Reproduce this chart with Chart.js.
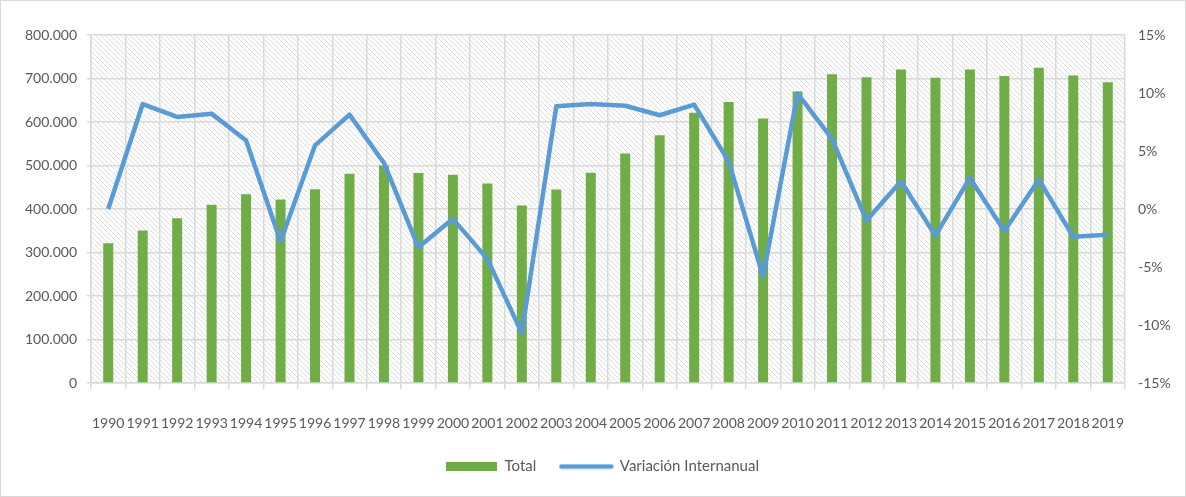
<!DOCTYPE html>
<html lang="es">
<head>
<meta charset="utf-8">
<title>Total y Variación Internanual</title>
<script src="https://cdn.jsdelivr.net/npm/chart.js@4.4.1/dist/chart.umd.min.js"></script>
<style>
    html, body { margin: 0; padding: 0; background: #fff; }
    canvas { display: block; }
</style>
</head>
<body>
<canvas id="grafico" width="1186" height="497"></canvas>
<script>
"use strict";

// Datos del gráfico
var anios = ['1990', '1991', '1992', '1993', '1994', '1995', '1996', '1997', '1998', '1999',
             '2000', '2001', '2002', '2003', '2004', '2005', '2006', '2007', '2008', '2009',
             '2010', '2011', '2012', '2013', '2014', '2015', '2016', '2017', '2018', '2019'];
var total = [321000, 350500, 379000, 410000, 434000, 422000, 445500, 481000, 500000, 483000,
             479000, 458500, 408000, 445000, 483500, 527500, 569500, 621000, 646000, 608000,
             670000, 710000, 703000, 720500, 701500, 720500, 706000, 725000, 707000, 691500];
// Variación internanual en %
var variacion = [0, 9.05, 7.94, 8.22, 5.9, -2.8, 5.49, 8.14, 3.97, -3.3,
                 -0.85, -4.3, -10.7, 8.85, 9.05, 8.9, 8.08, 9.0, 4.11, -5.8,
                 9.95, 6.04, -1.0, 2.39, -2.3, 2.68, -1.9, 2.53, -2.4, -2.21];

// Etiquetas de los ejes
var ticksTotal = [0, 100000, 200000, 300000, 400000, 500000, 600000, 700000, 800000];
var ticksVariacion = [-15, -10, -5, 0, 5, 10, 15];

var VERDE = '#70ad47';
var AZUL = '#5b9bd5';
var GRIS_TEXTO = '#595959';
var GRIS_REJILLA = '#d9d9d9';
var fuente = { family: 'Lato, "Open Sans", sans-serif', size: 14 };
var fuenteLeyenda = { family: 'Lato, "Open Sans", sans-serif', size: 15 };

// Separador de miles con punto
function miles(v) {
    return String(v).replace(/\B(?=(\d{3})+(?!\d))/g, '.');
}

// Trama rayada del área del gráfico
var trama = document.createElement('canvas');
trama.width = 5;
trama.height = 5;
(function () {
    var g = trama.getContext('2d');
    g.strokeStyle = '#dedede';
    g.lineWidth = 1;
    [-5, 0, 5].forEach(function (k) {
        g.beginPath();
        g.moveTo(k, 0);
        g.lineTo(k + 5, 5);
        g.stroke();
    });
})();

// Muestras de la leyenda
function muestraBarra() {
    var c = document.createElement('canvas');
    c.width = 51; c.height = 9;
    var g = c.getContext('2d');
    g.fillStyle = VERDE;
    g.fillRect(0, 0, 51, 9);
    return c;
}
function muestraLinea() {
    var c = document.createElement('canvas');
    c.width = 56; c.height = 6;
    var g = c.getContext('2d');
    g.strokeStyle = AZUL;
    g.lineWidth = 4.5;
    g.lineCap = 'round';
    g.beginPath();
    g.moveTo(3, 3);
    g.lineTo(53, 3);
    g.stroke();
    return c;
}

var fondoRayado = {
    id: 'fondoRayado',
    // La leyenda va algo a la derecha del centro
    afterLayout: function (chart) {
        chart.legend.left += 9;
        chart.legend.right += 9;
    },
    beforeDraw: function (chart) {
        var ctx = chart.ctx, a = chart.chartArea;
        ctx.save();
        ctx.fillStyle = '#ffffff';
        ctx.fillRect(0, 0, chart.width, chart.height);
        ctx.fillStyle = ctx.createPattern(trama, 'repeat');
        ctx.fillRect(a.left, a.top, a.right - a.left, a.bottom - a.top);
        ctx.strokeStyle = GRIS_REJILLA;
        ctx.lineWidth = 1;
        ctx.strokeRect(0.5, 0.5, chart.width - 1, chart.height - 1);
        ctx.restore();
    }
};

var ctx = document.getElementById('grafico').getContext('2d');
var grafico = new Chart(ctx, {
    type: 'bar',
    data: {
        labels: anios,
        datasets: [{
            type: 'bar',
            label: 'Total',
            data: total,
            backgroundColor: VERDE,
            barPercentage: 0.29,
            categoryPercentage: 1,
            yAxisID: 'y',
            order: 1
        }, {
            type: 'line',
            label: 'Variación Internanual',
            data: variacion,
            borderColor: AZUL,
            borderWidth: 4.5,
            borderJoinStyle: 'round',
            pointRadius: 0,
            tension: 0,
            yAxisID: 'y1',
            order: 0
        }]
    },
    options: {
        responsive: false,
        animation: false,
        layout: { padding: { top: 35, left: 10, right: 10, bottom: 13 } },
        plugins: {
            tooltip: { enabled: false },
            legend: {
                position: 'bottom',
                labels: {
                    color: GRIS_TEXTO,
                    font: fuenteLeyenda,
                    usePointStyle: true,
                    pointStyleWidth: 52,
                    padding: 24,
                    generateLabels: function () {
                        return [
                            { text: 'Total', pointStyle: muestraBarra(), fontColor: GRIS_TEXTO, datasetIndex: 0, lineWidth: 0 },
                            { text: 'Variación Internanual', pointStyle: muestraLinea(), fontColor: GRIS_TEXTO, datasetIndex: 1, lineWidth: 0 }
                        ];
                    }
                }
            }
        },
        scales: {
            x: {
                grid: { color: GRIS_REJILLA, lineWidth: 1.5, offset: true, tickLength: 6 },
                border: { color: GRIS_REJILLA, width: 1.5 },
                ticks: { color: GRIS_TEXTO, font: fuente, padding: 26, autoSkip: false, maxRotation: 0, minRotation: 0 },
                afterFit: function (s) { s.height = 52; }
            },
            y: {
                position: 'left',
                min: 0,
                max: 800000,
                grid: { color: GRIS_REJILLA, lineWidth: 1.5, tickLength: 4 },
                border: { color: GRIS_REJILLA, width: 1.5 },
                afterBuildTicks: function (s) {
                    s.ticks = ticksTotal.map(function (v) { return { value: v }; });
                },
                ticks: {
                    color: GRIS_TEXTO, font: fuente, padding: 10,
                    callback: function (v) { return miles(v); }
                },
                afterFit: function (s) { s.width = 81; }
            },
            y1: {
                position: 'right',
                min: -15,
                max: 15,
                grid: { display: false, drawTicks: false },
                border: { display: false },
                afterBuildTicks: function (s) {
                    s.ticks = ticksVariacion.map(function (v) { return { value: v }; });
                },
                ticks: {
                    color: GRIS_TEXTO, font: fuente, padding: 13,
                    callback: function (v) { return v + '%'; }
                },
                afterFit: function (s) { s.width = 51; }
            }
        }
    },
    plugins: [fondoRayado]
});
</script>
</body>
</html>
